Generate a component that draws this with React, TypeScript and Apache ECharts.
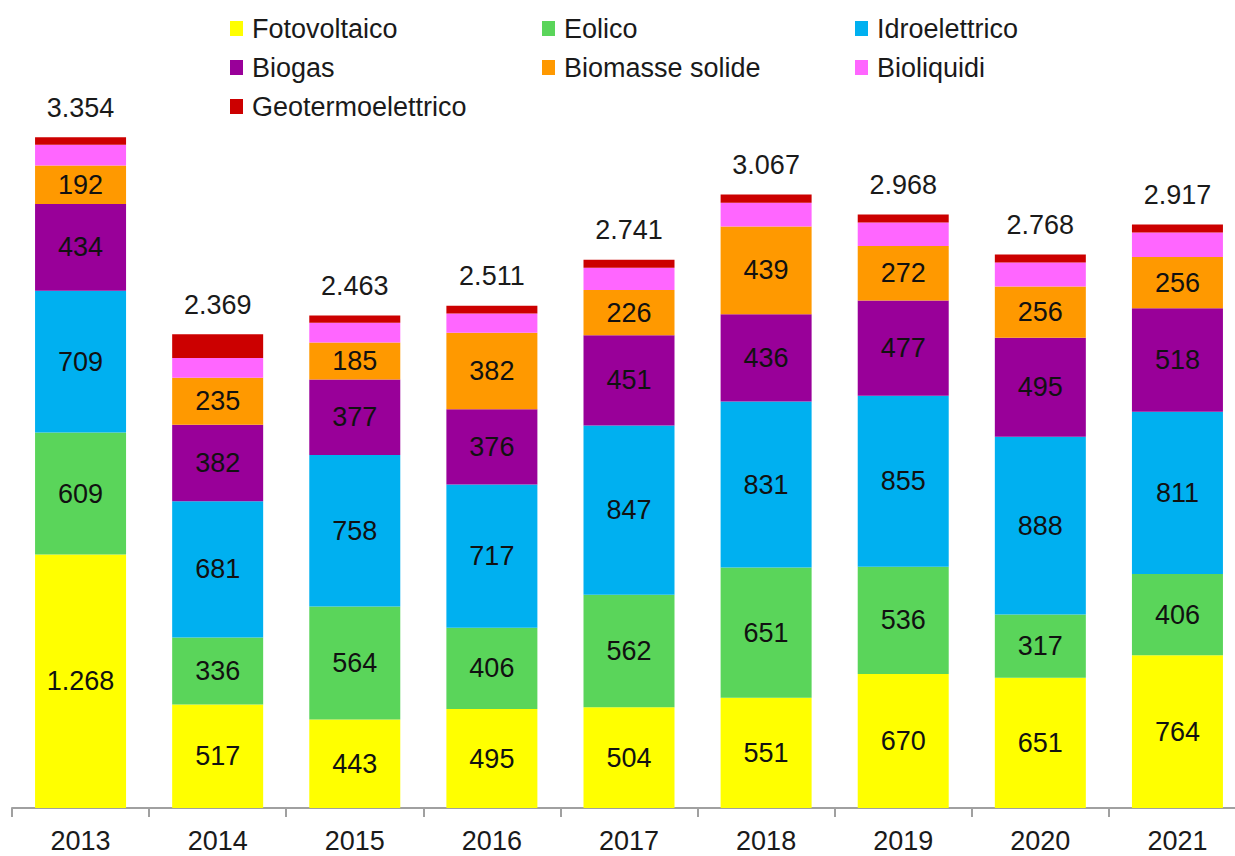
import React, { useEffect, useRef } from "react";
import * as echarts from "echarts";

const categories = ["2013", "2014", "2015", "2016", "2017", "2018", "2019", "2020", "2021"];
const fotovoltaico = [1268, 517, 443, 495, 504, 551, 670, 651, 764];
const eolico = [609, 336, 564, 406, 562, 651, 536, 317, 406];
const idroelettrico = [709, 681, 758, 717, 847, 831, 855, 888, 811];
const biogas = [434, 382, 377, 376, 451, 436, 477, 495, 518];
const biomasse = [192, 235, 185, 382, 226, 439, 272, 256, 256];
const bioliquidi = [104, 99, 99, 97, 111, 118, 117, 121, 123];
const geotermo = [38, 119, 37, 38, 40, 41, 41, 40, 39];
const totals = [3354, 2369, 2463, 2511, 2741, 3067, 2968, 2768, 2917];

const seriesNames = [
  "Fotovoltaico",
  "Eolico",
  "Idroelettrico",
  "Biogas",
  "Biomasse solide",
  "Bioliquidi",
  "Geotermoelettrico",
];
const seriesData = [fotovoltaico, eolico, idroelettrico, biogas, biomasse, bioliquidi, geotermo];
const colors = ["#FFFF00", "#5AD55A", "#00B0F0", "#990099", "#FF9900", "#FF66FF", "#CC0000"];
const labelled = [true, true, true, true, true, false, false];

const legendPos = [
  [230, 15],
  [542, 15],
  [855, 15],
  [230, 54],
  [542, 54],
  [855, 54],
  [230, 93],
];

const FONT = "'Liberation Sans', Arial, sans-serif";
const FS = 27;

function fmt(v: number): string {
  return String(v).replace(/\B(?=(\d{3})+(?!\d))/g, ".");
}

export default function App() {
  const ref = useRef<HTMLDivElement>(null);
  useEffect(() => {
    if (!ref.current) return;
    const chart = echarts.init(ref.current, undefined, { renderer: "svg" });
    const series: any[] = seriesNames.map((name, i) => {
      const s: any = {
        name,
        type: "bar",
        stack: "total",
        barWidth: 91,
        data: seriesData[i],
        itemStyle: { color: colors[i] },
        label: {
          show: labelled[i],
          position: "inside",
          color: "#111",
          fontSize: FS,
          fontFamily: FONT,
          formatter: (p: any) => fmt(p.value),
        },
      };
      if (i === seriesNames.length - 1) {
        s.label = {
          show: true,
          position: "top",
          distance: 16,
          color: "#1a1a1a",
          fontSize: FS,
          fontFamily: FONT,
          formatter: (p: any) => fmt(totals[p.dataIndex]),
        };
      }
      return s;
    });
    const legends = seriesNames.map((name, i) => ({
      data: [name],
      left: legendPos[i][0],
      top: legendPos[i][1],
      padding: 0,
      itemWidth: 13,
      itemHeight: 15,
      selectedMode: false,
      icon: "rect",
      textStyle: {
        color: "#1a1a1a",
        fontSize: FS,
        fontFamily: FONT,
        padding: [0, 0, 0, 4],
      },
    }));
    chart.setOption({
      animation: false,
      backgroundColor: "#ffffff",
      legend: legends,
      grid: { left: 12, top: 108, width: 1234, height: 700 },
      xAxis: {
        type: "category",
        data: categories,
        axisLine: { show: true, lineStyle: { color: "#A0A0A0", width: 2 } },
        axisTick: { show: true, length: 9, lineStyle: { color: "#A0A0A0", width: 2 } },
        axisLabel: {
          color: "#1a1a1a",
          fontSize: FS,
          fontFamily: FONT,
          margin: 19,
        },
      },
      yAxis: {
        type: "value",
        min: 0,
        max: 3500,
        show: false,
        splitLine: { show: false },
      },
      series,
    });
    return () => chart.dispose();
  }, []);
  return (
    <div
      style={{
        position: "fixed",
        left: 0,
        top: 0,
        width: 1235,
        height: 856,
        overflow: "hidden",
        background: "#fff",
      }}
    >
      <div ref={ref} style={{ width: 1262, height: 856 }} />
    </div>
  );
}
